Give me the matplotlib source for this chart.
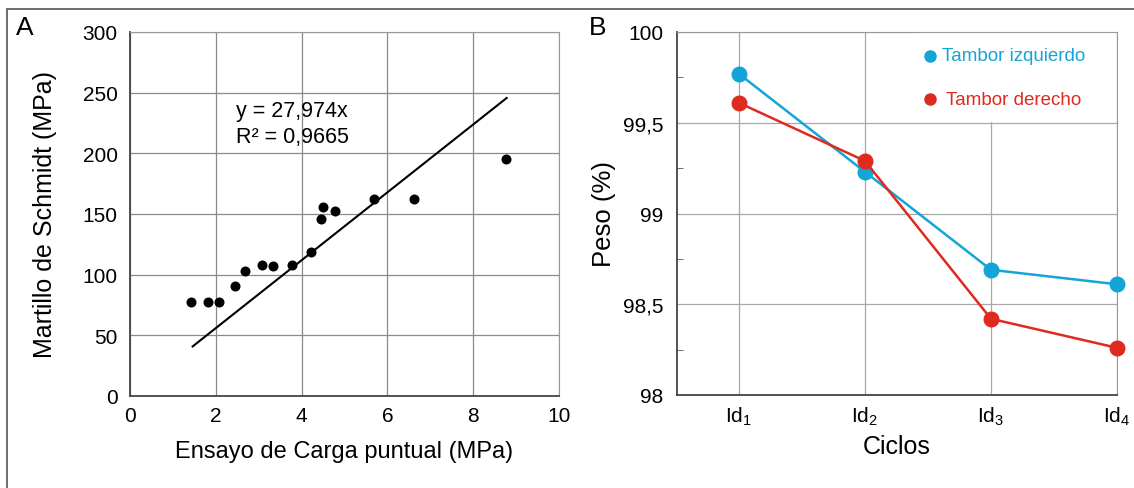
import matplotlib
matplotlib.use('Agg')
import matplotlib.pyplot as plt
import numpy as np
from matplotlib.patches import Rectangle

plt.rcParams['font.family'] = ['Liberation Sans', 'DejaVu Sans']
plt.rcParams['mathtext.fontset'] = 'custom'
plt.rcParams['mathtext.rm'] = 'Liberation Sans'

# Panel A: point load vs Schmidt hammer
carga = [1.42, 1.82, 2.07, 2.45, 2.69, 3.08, 3.33, 3.77, 4.23, 4.45, 4.49, 4.79, 5.69, 6.61, 8.77]
schmidt = [77.7, 77.7, 77.7, 90.6, 102.7, 107.7, 107.2, 107.7, 118.9, 145.9, 155.5, 152.7, 162.1, 162.1, 195.3]
pendiente = 27.974
fit_x = [1.46, 8.78]

# Panel B: weight per cycle
ciclos = ['Id$_1$', 'Id$_2$', 'Id$_3$', 'Id$_4$']
izquierdo = [99.77, 99.23, 98.69, 98.61]
derecho = [99.61, 99.29, 98.42, 98.26]

blue = '#13a5d8'
red = '#df2a1f'

W, H = 1134, 489
fig = plt.figure(figsize=(W / 100, H / 100), dpi=100)

def px(x, y):
    return x / W, 1 - y / H

# outer frame
fig.patches.append(Rectangle((7 / W, -0.01), 1.1, 1 - 10 / H + 0.01, transform=fig.transFigure,
                             fill=False, edgecolor='#555555', lw=1.2))

# ---- Panel A
ax1 = fig.add_axes([130 / W, 1 - 397 / H, 429 / W, 364 / H])
ax1.scatter(carga, schmidt, s=52, color='black', zorder=3, linewidths=0)
fx = np.array(fit_x)
ax1.plot(fx, pendiente * fx, color='black', lw=1.5, zorder=2)
ax1.set_xlim(0, 10)
ax1.set_ylim(0, 300)
ax1.set_xticks([0, 2, 4, 6, 8, 10])
ax1.set_yticks([0, 50, 100, 150, 200, 250, 300])
ax1.grid(True, color='#8a8a8a', lw=0.9)
ax1.set_axisbelow(True)
ax1.tick_params(axis='y', length=0, labelsize=15, pad=9)
ax1.tick_params(axis='x', length=0, labelsize=15, pad=7)
for s in ['top', 'right']:
    ax1.spines[s].set_color('#999999')
for s in ['left', 'bottom']:
    ax1.spines[s].set_color('#444444')
    ax1.spines[s].set_linewidth(1.3)
ax1.set_xlabel('Ensayo de Carga puntual (MPa)', fontsize=17)
ax1.set_ylabel('Martillo de Schmidt (MPa)', fontsize=18)
ax1.xaxis.set_label_coords(0.5, -(452 - 397) / 364, transform=ax1.transAxes)
ax1.xaxis.label.set_va('center')
ax1.yaxis.set_label_coords(-(130 - 45) / 429, 0.5, transform=ax1.transAxes)
ax1.yaxis.label.set_va('center')
ax1.text(2.47, 235, 'y = 27,974x', fontsize=15.5, va='center', ha='left')
ax1.text(2.47, 214, 'R² = 0,9665', fontsize=15.5, va='center', ha='left')

# ---- Panel B
ax2 = fig.add_axes([677 / W, 1 - 396 / H, 440 / W, 363 / H])
xs = np.arange(len(ciclos))
ax2.plot(xs, izquierdo, color=blue, lw=1.8, marker='o', ms=10.5, zorder=3, clip_on=False)
ax2.plot(xs, derecho, color=red, lw=1.8, marker='o', ms=10.5, zorder=4, clip_on=False)
ax2.set_xlim(-0.49, 3)
ax2.set_ylim(98, 100)
ax2.set_xticks(xs)
ax2.set_xticklabels(ciclos)
ax2.set_yticks([98, 98.5, 99, 99.5, 100])
ax2.set_yticklabels(['98', '98,5', '99', '99,5', '100'])
ax2.set_yticks([98.25, 98.75, 99.25, 99.75], minor=True)
ax2.grid(True, which='major', color='#a8a8a8', lw=0.9)
ax2.set_axisbelow(True)
ax2.tick_params(axis='y', which='major', length=0, labelsize=15, pad=10)
ax2.tick_params(axis='x', which='major', length=0, labelsize=15, pad=7)
ax2.tick_params(axis='y', which='minor', length=4, direction='in', color='#555555')
for s in ['top', 'right']:
    ax2.spines[s].set_color('#999999')
for s in ['left', 'bottom']:
    ax2.spines[s].set_color('#444444')
    ax2.spines[s].set_linewidth(1.3)
ax2.set_xlabel('Ciclos', fontsize=18)
ax2.set_ylabel('Peso (%)', fontsize=18.5)
ax2.xaxis.set_label_coords((897 - 677) / 440, -(447 - 396) / 363, transform=ax2.transAxes)
ax2.xaxis.label.set_va('center')
ax2.yaxis.set_label_coords(-(677 - 604) / 440, 0.5, transform=ax2.transAxes)
ax2.yaxis.label.set_va('center')

# legend box (covers grid)
ax2.add_patch(Rectangle((1.4, 99.505), 1.59, 0.49, facecolor='white', edgecolor='none', zorder=2))
ax2.plot([1.516], [99.868], 'o', color=blue, ms=8, zorder=3)
ax2.text(1.61, 99.868, 'Tambor izquierdo', color=blue, fontsize=13.5, va='center', ha='left', zorder=3)
ax2.plot([1.516], [99.63], 'o', color=red, ms=8, zorder=3)
ax2.text(1.64, 99.63, 'Tambor derecho', color=red, fontsize=13.5, va='center', ha='left', zorder=3)

fig.text(*px(25, 28), 'A', fontsize=19, ha='center', va='center')
fig.text(*px(598, 28), 'B', fontsize=19, ha='center', va='center')

fig.savefig('out.png', dpi=100)
